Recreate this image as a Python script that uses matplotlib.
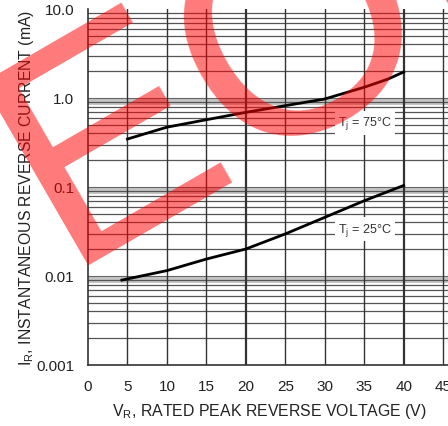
import matplotlib
matplotlib.use("Agg")
import matplotlib.pyplot as plt
import numpy as np

plt.rcParams['font.family'] = ['Liberation Sans', 'DejaVu Sans']

# values
v_75 = [5, 10, 15, 20, 25, 30, 35, 38, 40]
i_75 = [0.346, 0.47, 0.57, 0.69, 0.82, 0.975, 1.32, 1.63, 1.96]
v_25 = [4.3, 10, 15, 20, 25, 30, 35, 40]
i_25 = [0.0090, 0.0115, 0.0155, 0.0201, 0.0297, 0.0456, 0.070, 0.104]

x_ticks = [0, 5, 10, 15, 20, 25, 30, 35, 40, 45]
y_ticks = [0.001, 0.01, 0.1, 1.0, 10.0]
y_labels = ['0.001', '0.01', '0.1', '1.0', '10.0']

W, H = 448, 427
fig = plt.figure(figsize=(W / 100, H / 100), dpi=100)
# axes from px 88 (V=0) to 451 (V=46), y from 10 (10 mA) to 366 (0.001 mA)
ax = fig.add_axes([88 / W, 1 - 366 / H, (451 - 88) / W, (366 - 10) / H])
ax.set_yscale('log')
ax.set_xlim(0, 46)
ax.set_ylim(0.001, 10)

# log grid: light band just under each decade, dark thin lines on minor steps
for d in [0.001, 0.01, 0.1, 1.0]:
    ax.axhline(d * 0.93, color='#c4c4c4', lw=5, zorder=1)
    ax.axhline(d, color='#666666', lw=0.8, zorder=1.2)
    for k in range(2, 10):
        ax.axhline(d * k, color='#555555', lw=0.9, zorder=1.1)
for v in x_ticks[1:]:
    lw = 1.6 if v in (20, 40) else 1.0
    ax.axvline(v, color='#333333', lw=lw, zorder=1.3)

ax.plot(v_75, i_75, color='black', lw=2, zorder=3)
ax.plot(v_25, i_25, color='black', lw=2, zorder=3)

box = dict(facecolor='white', edgecolor='none', pad=2.5)
ax.text(35.1, 0.524, r'T$_\mathregular{j}$ = 75°C', fontsize=9, color='#333333',
        ha='center', va='center', bbox=box, zorder=4)
ax.text(35.1, 0.0337, r'T$_\mathregular{j}$ = 25°C', fontsize=9, color='#333333',
        ha='center', va='center', bbox=box, zorder=4)

ax.set_xticks(x_ticks)
ax.set_yticks(y_ticks)
ax.set_yticklabels(y_labels)
ax.yaxis.set_minor_locator(matplotlib.ticker.NullLocator())
ax.tick_params(length=0, labelsize=11, colors='#222222', pad=10)
for s in ['top', 'right']:
    ax.spines[s].set_visible(False)
for s in ['left', 'bottom']:
    ax.spines[s].set_color('#333333')
    ax.spines[s].set_linewidth(1.2)

ax.set_xlabel(r'V$_\mathregular{R}$, RATED PEAK REVERSE VOLTAGE (V)', fontsize=11.4, color='#222222', labelpad=6)
ax.set_ylabel(r'I$_\mathregular{R}$, INSTANTANEOUS REVERSE CURRENT (mA)', fontsize=11.3, color='#222222', labelpad=0)

# red EOL watermark
fig.text(63 / W, 1 - 265 / H, 'EOL', fontsize=221, color='red', alpha=0.52,
         rotation=30, rotation_mode='anchor', ha='left', va='baseline', zorder=10)

fig.savefig('out.png', dpi=100)
